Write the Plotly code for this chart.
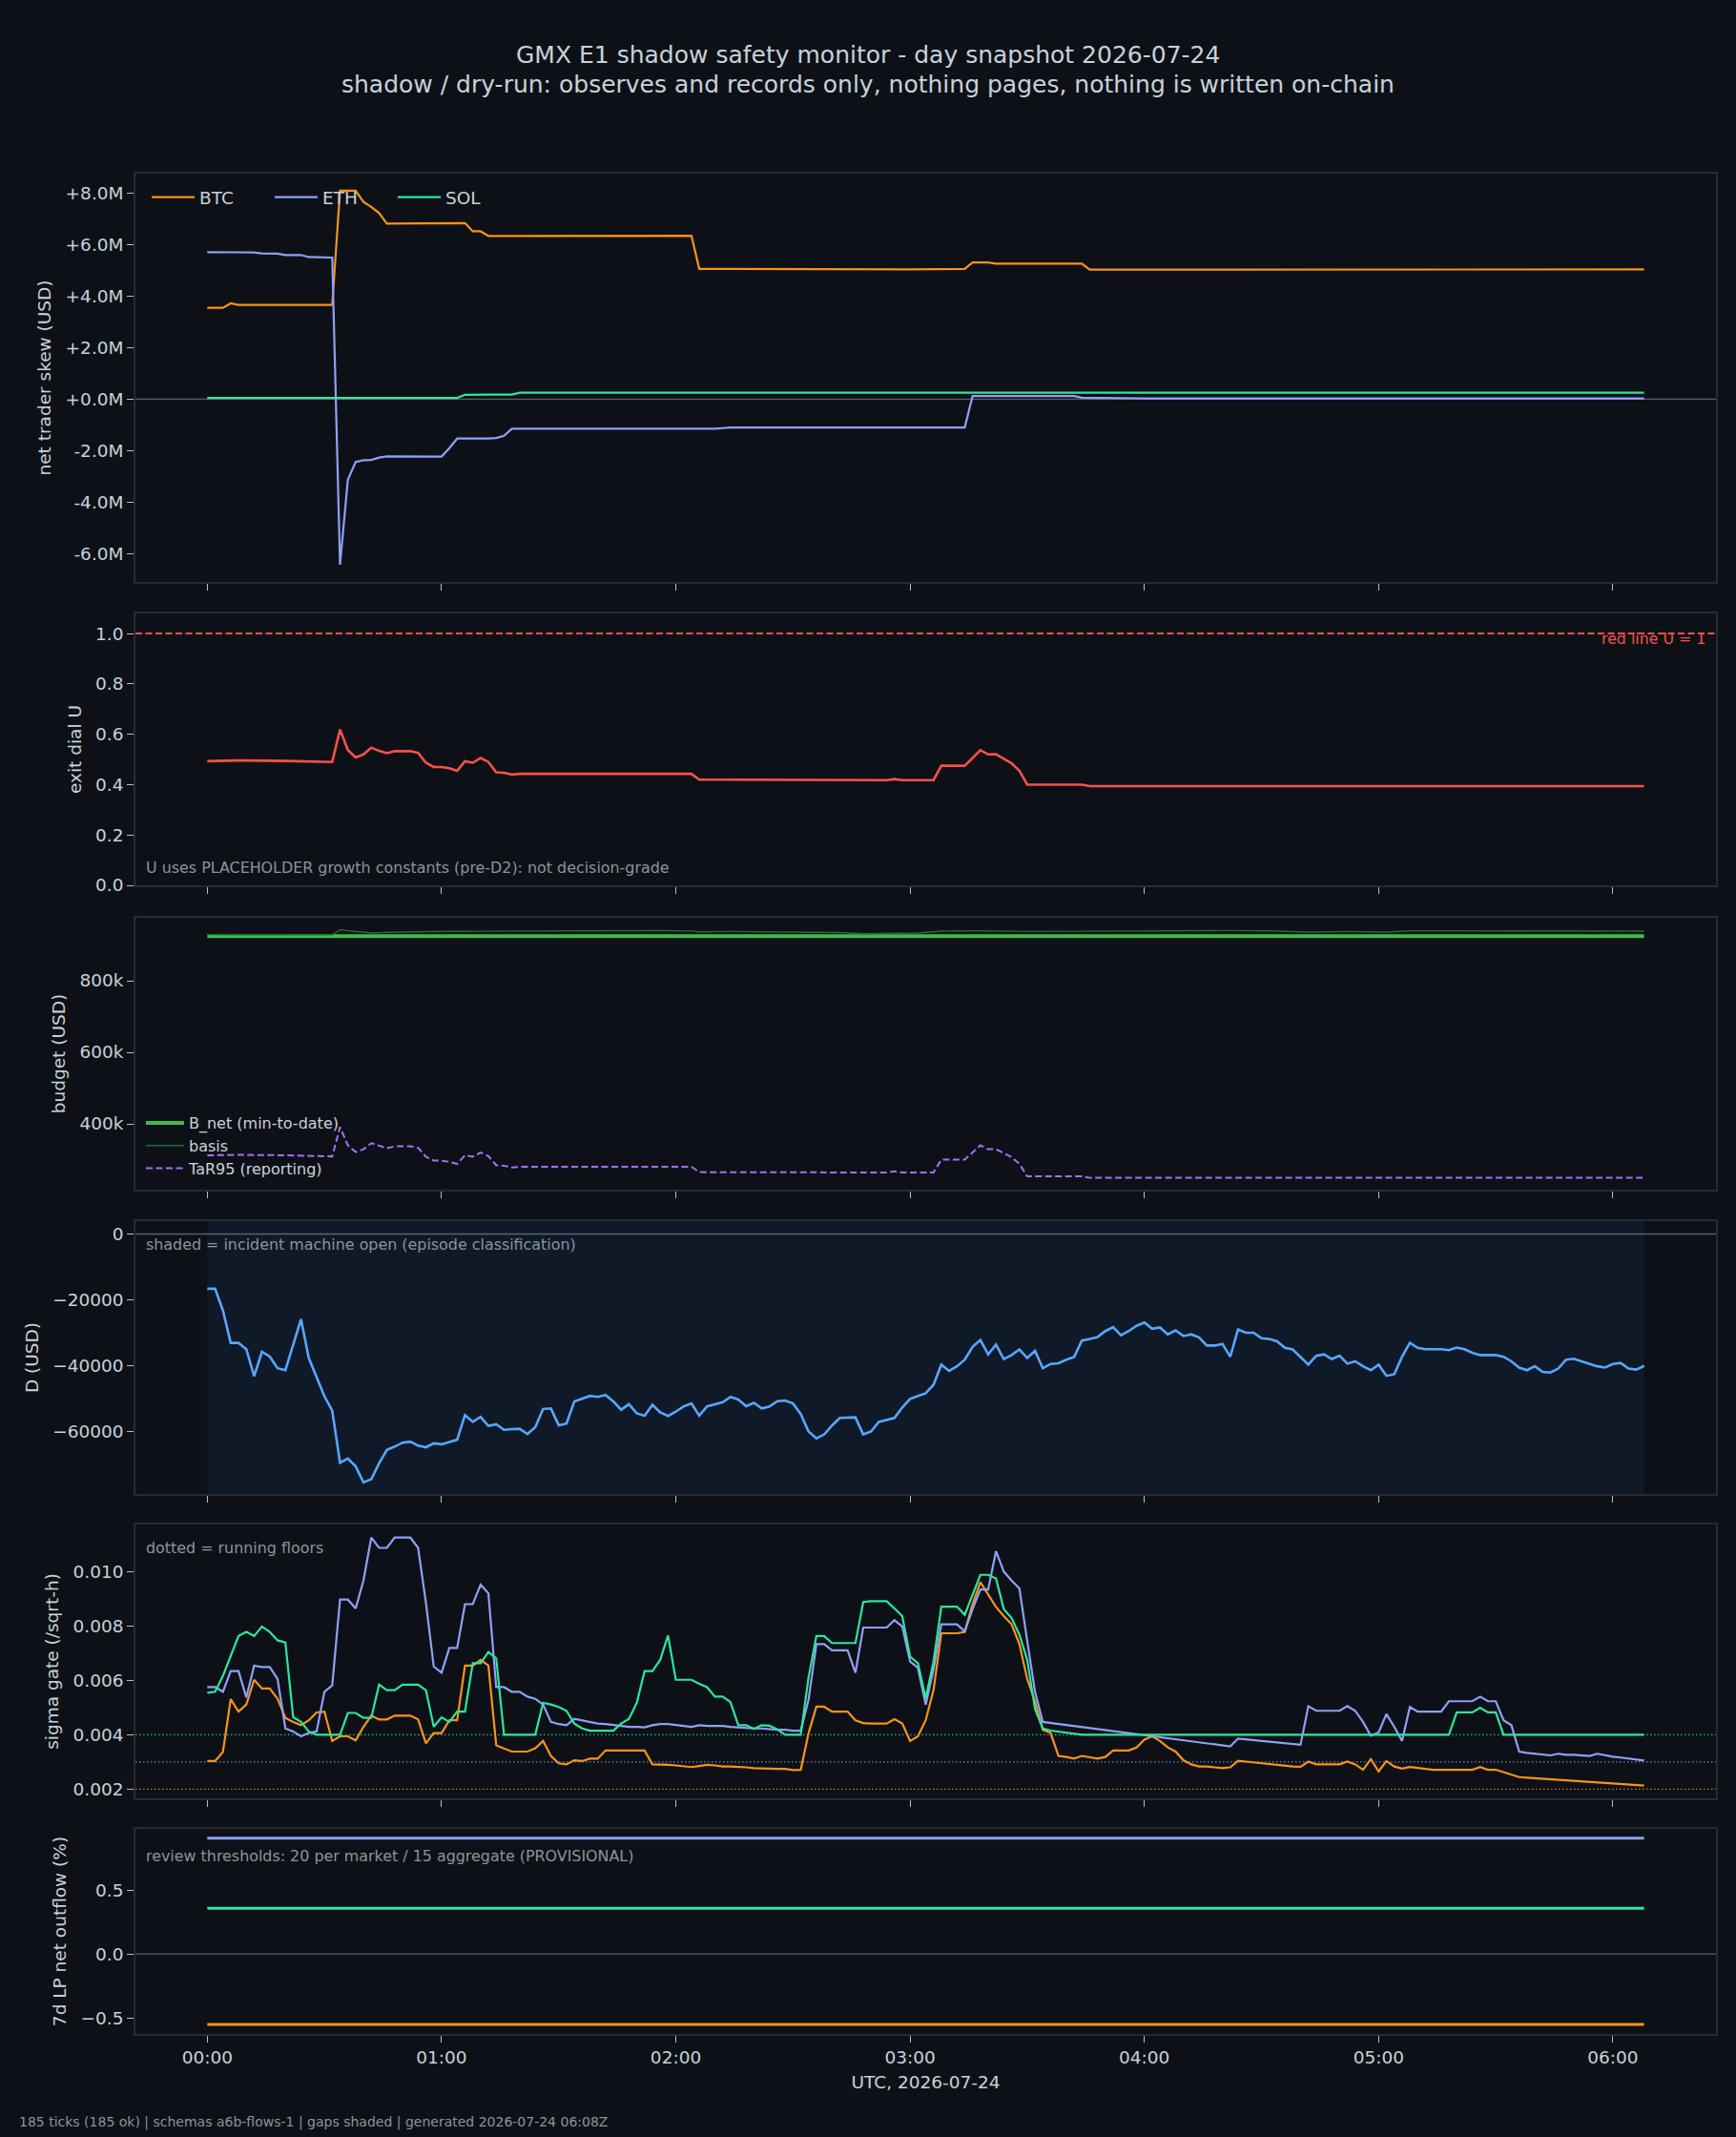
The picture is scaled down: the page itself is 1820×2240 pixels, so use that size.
import plotly.graph_objects as go
from plotly.subplots import make_subplots

# ---------------- data ----------------
t_grid = list(range(0, 369, 2))  # minutes after 00:00 UTC, 185 ticks
tick_vals = [0, 60, 120, 180, 240, 300, 360]
tick_text = ["00:00", "01:00", "02:00", "03:00", "04:00", "05:00", "06:00"]

# panel 1: net trader skew (USD) - vertices of the step-like series
btc_skew_t = [0, 4, 6, 8, 32, 34, 38, 40, 42, 44, 46, 66, 68, 70, 72, 124, 126, 150, 160, 180, 194, 196, 200, 202, 224, 226, 368]
btc_skew = [3.55e6, 3.55e6, 3.72e6, 3.66e6, 3.66e6, 8.1e6, 8.1e6, 7.66e6, 7.47e6, 7.23e6, 6.82e6, 6.84e6, 6.52e6, 6.52e6,
            6.34e6, 6.35e6, 5.06e6, 5.05e6, 5.03e6, 5.04e6, 5.06e6, 5.31e6, 5.31e6, 5.26e6, 5.26e6, 5.03e6, 5.04e6]
eth_skew_t = [0, 12, 14, 18, 20, 24, 26, 32, 34, 36, 38, 40, 42, 44, 46, 58, 60, 62, 64, 72, 74, 76, 78, 130, 134, 194, 196, 222, 224, 240, 368]
eth_skew = [5.71e6, 5.70e6, 5.66e6, 5.65e6, 5.60e6, 5.60e6, 5.52e6, 5.50e6, -6.43e6, -3.13e6, -2.44e6, -2.37e6, -2.36e6, -2.27e6,
            -2.22e6, -2.21e6, -2.23e6, -1.90e6, -1.53e6, -1.53e6, -1.51e6, -1.42e6, -1.15e6, -1.15e6, -1.10e6, -1.10e6,
            0.12e6, 0.12e6, 0.06e6, 0.03e6, 0.03e6]
sol_skew_t = [0, 64, 66, 78, 80, 368]
sol_skew = [0.05e6, 0.05e6, 0.17e6, 0.18e6, 0.25e6, 0.25e6]
skew_ticks = [-6e6, -4e6, -2e6, 0, 2e6, 4e6, 6e6, 8e6]
skew_tick_text = ["-6.0M", "-4.0M", "-2.0M", "+0.0M", "+2.0M", "+4.0M", "+6.0M", "+8.0M"]

# panel 2: exit dial U
u_t = [0, 6, 8, 20, 26, 32, 34, 36, 38, 40, 42, 44, 46, 48, 52, 54, 56, 58, 60, 62, 64, 66, 68, 70, 72, 74, 76, 78, 80,
       124, 126, 174, 176, 178, 186, 188, 194, 198, 200, 202, 204, 206, 208, 210, 224, 226, 368]
u_val = [0.493, 0.495, 0.496, 0.494, 0.492, 0.490, 0.619, 0.537, 0.508, 0.520, 0.547, 0.534, 0.525, 0.533, 0.533, 0.526,
         0.487, 0.470, 0.470, 0.465, 0.455, 0.493, 0.487, 0.506, 0.490, 0.449, 0.447, 0.440, 0.443,
         0.443, 0.420, 0.418, 0.422, 0.418, 0.418, 0.475, 0.475, 0.537, 0.520, 0.521, 0.503, 0.485, 0.455, 0.400,
         0.400, 0.394, 0.394]
u_ticks = [0.0, 0.2, 0.4, 0.6, 0.8, 1.0]
u_tick_text = ["0.0", "0.2", "0.4", "0.6", "0.8", "1.0"]
u_red_line = 1.0

# panel 3: budget (USD)
bnet_t = [0, 368]
bnet_val = [924500, 924500]
basis_t = [0, 10, 20, 32, 34, 36, 38, 40, 42, 46, 50, 56, 64, 70, 76, 84, 92, 100, 108, 116, 124, 126, 134, 140, 146, 150,
           156, 162, 168, 176, 182, 188, 198, 212, 226, 240, 254, 262, 272, 282, 292, 302, 308, 326, 340, 346, 354, 368]
basis_val = [929000, 928600, 928800, 928300, 942300, 939500, 937500, 936000, 933500, 935500, 937000, 937300, 937800,
             938600, 938300, 939000, 939500, 940000, 939500, 939800, 939000, 936500, 937700, 937000, 938000, 937500,
             935500, 934500, 931400, 932000, 933200, 938600, 939500, 937700, 938600, 939500, 938600, 940300, 939500,
             935900, 937700, 935900, 939500, 939500, 938600, 940300, 938600, 938600]
tar_t = u_t
tar_val = [312000, 313000, 313500, 312000, 311000, 309000, 391000, 340000, 321000, 329000, 346000, 338000, 332000, 337000,
           337000, 333000, 308000, 297000, 297000, 294000, 288000, 312000, 308000, 320000, 310000, 284000, 283000, 278000,
           280000, 280000, 265000, 264000, 267000, 264000, 264000, 300000, 300000, 340000, 329000, 329000, 318000,
           307000, 288000, 253000, 253000, 249000, 249000]
budget_ticks = [400000, 600000, 800000]
budget_tick_text = ["400k", "600k", "800k"]

# panel 4: D (USD)
d_val = [-16640, -16640, -23200, -33100, -33100, -35000, -43200, -35800, -37250, -40800,
         -41400, -33900, -25900, -37700, -43500, -49300, -53700, -69500, -68200, -70600,
         -75500, -74500, -69700, -65600, -64600, -63400, -63100, -64300, -64800, -63600,
         -63900, -63300, -62500, -55000, -57100, -55600, -58300, -57800, -59500, -59300,
         -59200, -60800, -58700, -53200, -53000, -58100, -57600, -50900, -50100, -49200,
         -49500, -48900, -50900, -53400, -51700, -54500, -55200, -51900, -54200, -55300,
         -54000, -52400, -51500, -55200, -52400, -51800, -51100, -49500, -50300, -52300,
         -51300, -53000, -52400, -50800, -50600, -51500, -54700, -60000, -62100, -60900,
         -58200, -55900, -55900, -55700, -60900, -60000, -57100, -56600, -55900, -52700,
         -50100, -49200, -48400, -45800, -39700, -41600, -40200, -38200, -34300, -32200,
         -36600, -33600, -38000, -36800, -35100, -37700, -35500, -40800, -39500, -39300,
         -38200, -37400, -32400, -31900, -31300, -29500, -28300, -30800, -29500, -27900,
         -26900, -28800, -28400, -30500, -29300, -31000, -30500, -31400, -33900, -33900,
         -33400, -37300, -29000, -30000, -30000, -31700, -31900, -32600, -34600, -35100,
         -37300, -39700, -37000, -36600, -38000, -37000, -39400, -38700, -40200, -41400,
         -39700, -43100, -42600, -37300, -33100, -34600, -35000, -35000, -35000, -35300,
         -34500, -35000, -36100, -36800, -36800, -36800, -37300, -38700, -40600, -41400,
         -40200, -41900, -42100, -40900, -38200, -37900, -38700, -39500, -40200, -40600,
         -39500, -39200, -40900, -41200, -40100]
incident_open = [0, 368]  # minutes
d_ticks = [-60000, -40000, -20000, 0]
d_tick_text = ["\u221260000", "\u221240000", "\u221220000", "0"]

# panel 5: sigma gate (/sqrt-h); None = no sample (line connects across)
sig_btc = [0.00303, 0.00303, 0.00336, 0.00531, 0.00485, 0.00511, 0.00602, 0.00570, 0.00570, 0.00532,
           0.00462, 0.00447, 0.00435, 0.00453, 0.00482, 0.00485, 0.00377, 0.00394, 0.00394, 0.00379,
           0.00429, 0.00470, 0.00456, 0.00456, 0.00470, 0.00470, 0.00470, 0.00456, 0.00368, 0.00406,
           0.00406, 0.00453, 0.00453, 0.00654, 0.00654, 0.00675, 0.00654, 0.00361, 0.00350, 0.00338,
           0.00338, 0.00338, 0.00350, 0.00377, 0.00322, 0.00295, 0.00291, 0.00306, 0.00303, 0.00312,
           0.00312, 0.00342, 0.00342, 0.00342, 0.00342, 0.00342, 0.00342, 0.00291, 0.00291, 0.00289,
           0.00287, 0.00283, 0.00281, 0.00285, 0.00289, 0.00287, 0.00283, 0.00283, 0.00282, 0.00280,
           0.00277, 0.00277, 0.00275, 0.00274, 0.00274, 0.00270, 0.00271, 0.00406, 0.00503, 0.00503,
           0.00485, 0.00485, 0.00485, 0.00453, 0.00443, 0.00441, 0.00441, 0.00441, 0.00457, 0.00441,
           0.00377, 0.00394, 0.00453, 0.00564, 0.00773, 0.00773, 0.00773, 0.00778, 0.00880, 0.00961,
           0.00915, 0.00870, 0.00836, 0.00806, 0.00733, 0.00605, 0.00523, 0.00418, 0.00406, 0.00322,
           0.00318, 0.00312, 0.00322, 0.00316, 0.00312, 0.00318, 0.00342, 0.00342, 0.00342, 0.00353,
           0.00382, 0.00394, 0.00377, 0.00353, 0.00338, 0.00306, 0.00291, 0.00283, 0.00283, 0.00280,
           0.00277, 0.00280, 0.00304, 0.00301, 0.00298, 0.00296, 0.00292, 0.00289, 0.00285, 0.00283,
           0.00282, 0.00301, 0.00291, 0.00291, 0.00291, 0.00291, 0.00301, 0.00291, 0.00271, 0.00310,
           0.00265, 0.00303, 0.00283, 0.00275, 0.00281, 0.00277, 0.00274, 0.00271, 0.00271, 0.00271,
           0.00271, 0.00271, 0.00271, 0.00281, 0.00271, 0.00271, 0.00262, 0.00254, 0.00244, 0.00242,
           0.00240, 0.00239, 0.00236, 0.00236, 0.00234, 0.00232, 0.00229, 0.00227, 0.00225, 0.00222,
           0.00220, 0.00219, 0.00216, 0.00215, 0.00213]
sig_eth = ([0.00575, 0.00575, 0.00558, 0.00634, 0.00634, 0.00537, 0.00654, 0.00649, 0.00649, 0.00605,
            0.00423, 0.00412, 0.00394, 0.00406, 0.00412, 0.00558, 0.00581, 0.00897, 0.00897, 0.00864,
            0.00967, 0.01125, 0.01087, 0.01087, 0.01125, 0.01125, 0.01125, 0.01087, 0.00885, 0.00651,
            0.00628, 0.00719, 0.00719, 0.00880, 0.00880, 0.00952, 0.00920, 0.00575, 0.00575, 0.00558,
            0.00558, 0.00540, 0.00532, 0.00511, 0.00447, 0.00439, 0.00435, 0.00458, 0.00453, 0.00447,
            0.00441, 0.00439, 0.00435, 0.00433, 0.00429, 0.00429, 0.00427, 0.00435, 0.00439, 0.00439,
            0.00435, 0.00432, 0.00429, 0.00435, 0.00432, 0.00432, 0.00432, 0.00429, 0.00427, 0.00423,
            0.00423, 0.00423, 0.00420, 0.00418, 0.00418, 0.00415, 0.00415, 0.00529, 0.00733, 0.00733,
            0.00710, 0.00710, 0.00710, 0.00628, 0.00794, 0.00794, 0.00794, 0.00794, 0.00821, 0.00798,
            0.00669, 0.00646, 0.00511, 0.00640, 0.00806, 0.00806, 0.00806, 0.00780, 0.00862, 0.00934,
            0.00934, 0.01075, 0.01000, 0.00967, 0.00938, 0.00745, 0.00558, 0.00447]
           + [None] * 23 + [0.00357, 0.00386] + [None] * 7 + [0.00363]
           + [0.00505, 0.00488, 0.00488, 0.00488, 0.00488, 0.00505, 0.00488, 0.00447, 0.00396, 0.00408,
              0.00476, 0.00429, 0.00377, 0.00502, 0.00485, 0.00485, 0.00485, 0.00485, 0.00523, 0.00523,
              0.00523, 0.00523, 0.00540, 0.00523, 0.00523, 0.00453, 0.00435, 0.00338, 0.00333, 0.00330,
              0.00326, 0.00324, 0.00330, 0.00326, 0.00326, 0.00324, 0.00322, 0.00330, 0.00324, 0.00319,
              0.00316, 0.00312, 0.00309, 0.00305])
sig_sol = ([0.00554, 0.00558, 0.00616, 0.00692, 0.00763, 0.00778, 0.00763, 0.00798, 0.00778, 0.00747,
            0.00739, 0.00464, 0.00447, 0.00412, 0.00400, 0.00400, 0.00400, 0.00400, 0.00480, 0.00480,
            0.00462, 0.00462, 0.00584, 0.00564, 0.00564, 0.00584, 0.00584, 0.00584, 0.00564, 0.00429,
            0.00464, 0.00447, 0.00485, 0.00485, 0.00663, 0.00663, 0.00704, 0.00681, 0.00400, 0.00400,
            0.00400, 0.00400, 0.00400, 0.00517, 0.00511, 0.00502, 0.00488, 0.00441, 0.00423, 0.00415,
            0.00415, 0.00415, 0.00415, 0.00441, 0.00458, 0.00517, 0.00634, 0.00634, 0.00675, 0.00765,
            0.00602, 0.00602, 0.00602, 0.00587, 0.00575, 0.00540, 0.00540, 0.00520, 0.00435, 0.00435,
            0.00421, 0.00435, 0.00433, 0.00420, 0.00400, 0.00400, 0.00400, 0.00611, 0.00763, 0.00763,
            0.00737, 0.00737, 0.00737, 0.00737, 0.00888, 0.00891, 0.00891, 0.00891, 0.00864, 0.00836,
            0.00687, 0.00663, 0.00534, 0.00669, 0.00871, 0.00871, 0.00871, 0.00841, 0.00915, 0.00988,
            0.00988, 0.00975, 0.00862, 0.00829, 0.00768, 0.00675, 0.00494, 0.00423, 0.00415]
           + [None] * 3 + [0.00400] + [None] * 46 + [0.00400]
           + [0.00482, 0.00482, 0.00482, 0.00499, 0.00482, 0.00482, 0.00400]
           + [None] * 17 + [0.00400])
floor_btc, floor_eth, floor_sol = 0.002, 0.003, 0.004
sig_ticks = [0.002, 0.004, 0.006, 0.008, 0.010]
sig_tick_text = ["0.002", "0.004", "0.006", "0.008", "0.010"]

# panel 6: 7d LP net outflow (%)
lp_t = [0, 368]
lp_btc = [-0.55, -0.55]
lp_eth = [0.905, 0.905]
lp_sol = [0.358, 0.358]
lp_ticks = [-0.5, 0.0, 0.5]
lp_tick_text = ["\u22120.5", "0.0", "0.5"]

# ---------------- style ----------------
BG = "#0d1117"
PLOT_BG = "#0d1117"
FRAME = "#262b33"
TEXT = "#c9d1d9"
MUTED = "#8b949e"
ZERO = "#5a6069"
C_BTC = "#f7931a"
C_ETH = "#8fa0f5"
C_SOL = "#2ee59d"
C_U = "#f85149"
C_D = "#58a6ff"
C_BNET = "#3fb950"
C_BASIS = "#1f6f33"
C_TAR = "#a371f7"
FONT = "DejaVu Sans"
FS = 18.5

W, H = 1820, 2240
L, R, T, B = 142, 1799, 182, 2132


def px_x(x):
    return (x - L) / (R - L)


def px_y(y):
    return (B - y) / (B - T)


panels_px = [(182, 610), (643, 928), (962, 1247), (1280, 1566), (1598, 1885), (1917, 2132)]

fig = make_subplots(rows=6, cols=1, shared_xaxes=True, vertical_spacing=0.01)

# panel 1
for name, tt, vv, col in [("BTC", btc_skew_t, btc_skew, C_BTC), ("ETH", eth_skew_t, eth_skew, C_ETH),
                          ("SOL", sol_skew_t, sol_skew, C_SOL)]:
    fig.add_trace(go.Scatter(x=tt, y=vv, mode="lines", name=name, line=dict(color=col, width=2.2),
                             legend="legend"), row=1, col=1)
# panel 2
fig.add_trace(go.Scatter(x=u_t, y=u_val, mode="lines", line=dict(color=C_U, width=2.6), showlegend=False), row=2, col=1)
# panel 3
fig.add_trace(go.Scatter(x=bnet_t, y=bnet_val, mode="lines", name="B_net (min-to-date)",
                         line=dict(color=C_BNET, width=4), legend="legend2"), row=3, col=1)
fig.add_trace(go.Scatter(x=basis_t, y=basis_val, mode="lines", name="basis",
                         line=dict(color=C_BASIS, width=1.4), legend="legend2"), row=3, col=1)
fig.add_trace(go.Scatter(x=tar_t, y=tar_val, mode="lines", name="TaR95 (reporting)",
                         line=dict(color=C_TAR, width=2, dash="7px,3.5px"), legend="legend2"), row=3, col=1)
# panel 4
fig.add_trace(go.Scatter(x=t_grid, y=d_val, mode="lines", line=dict(color=C_D, width=2.6), showlegend=False), row=4, col=1)
# panel 5
for vv, col in [(sig_btc, C_BTC), (sig_eth, C_ETH), (sig_sol, C_SOL)]:
    fig.add_trace(go.Scatter(x=t_grid, y=vv, mode="lines", connectgaps=True, line=dict(color=col, width=2.2),
                             showlegend=False), row=5, col=1)
# panel 6
for vv, col in [(lp_btc, C_BTC), (lp_eth, C_ETH), (lp_sol, C_SOL)]:
    fig.add_trace(go.Scatter(x=lp_t, y=vv, mode="lines", line=dict(color=col, width=3), showlegend=False), row=6, col=1)

# shapes
shapes = []
for yref, yv in [("y", 0), ("y4", 0), ("y6", 0)]:
    shapes.append(dict(type="line", xref="x domain", yref=yref, x0=0, x1=1, y0=yv, y1=yv,
                       line=dict(color=ZERO, width=1.4), layer="below"))
shapes.append(dict(type="line", xref="x domain", yref="y2", x0=0, x1=1, y0=u_red_line, y1=u_red_line,
                   line=dict(color=C_U, width=2, dash="7px,3.5px"), layer="below"))
shapes.append(dict(type="rect", xref="x4", yref="y4 domain", x0=incident_open[0], x1=incident_open[1], y0=0, y1=1,
                   fillcolor="rgba(56,139,253,0.07)", line=dict(width=0), layer="below"))
for yv, col in [(floor_sol, C_SOL), (floor_eth, C_ETH), (floor_btc, C_BTC)]:
    shapes.append(dict(type="line", xref="x domain", yref="y5", x0=0, x1=1, y0=yv, y1=yv,
                       line=dict(color=col, width=1.3, dash="1.5px,2.5px"), opacity=0.8, layer="below"))

# annotations
anns = [
    dict(text="GMX E1 shadow safety monitor - day snapshot 2026-07-24", x=px_x(910), y=px_y(58),
         font=dict(size=25, color=TEXT)),
    dict(text="shadow / dry-run: observes and records only, nothing pages, nothing is written on-chain",
         x=px_x(910), y=px_y(89), font=dict(size=25, color=TEXT)),
    dict(text="red line U = 1", x=px_x(1790), y=px_y(670), xanchor="right", font=dict(size=15.8, color=C_U)),
    dict(text="U uses PLACEHOLDER growth constants (pre-D2): not decision-grade", x=px_x(151), y=px_y(909),
         xanchor="left", font=dict(size=15.9, color=MUTED)),
    dict(text="shaded = incident machine open (episode classification)", x=px_x(151), y=px_y(1304),
         xanchor="left", font=dict(size=15.9, color=MUTED)),
    dict(text="dotted = running floors", x=px_x(151), y=px_y(1622), xanchor="left",
         font=dict(size=15.9, color=MUTED)),
    dict(text="review thresholds: 20 per market / 15 aggregate (PROVISIONAL)", x=px_x(151), y=px_y(1945),
         xanchor="left", font=dict(size=15.9, color=MUTED)),
    dict(text="185 ticks (185 ok) | schemas a6b-flows-1 | gaps shaded | generated 2026-07-24 06:08Z",
         x=px_x(18), y=px_y(2224), xanchor="left", font=dict(size=14, color=MUTED)),
]
for a in anns:
    a.update(xref="paper", yref="paper", showarrow=False, yanchor="middle", font=dict(family=FONT, **a["font"]))
    a.setdefault("xanchor", "center")

fig.update_layout(
    width=W, height=H, margin=dict(l=L, r=W - R, t=T, b=H - B),
    paper_bgcolor=BG, plot_bgcolor=PLOT_BG,
    font=dict(family=FONT, size=FS, color=TEXT),
    shapes=shapes, annotations=anns,
    legend=dict(orientation="h", x=px_x(154), y=px_y(207), xanchor="left", yanchor="middle",
                bgcolor="rgba(0,0,0,0)", font=dict(size=FS, color=TEXT), itemwidth=45,
                entrywidth=69, entrywidthmode="pixels"),
    legend2=dict(orientation="v", x=px_x(148), y=px_y(1160), xanchor="left", yanchor="top",
                 bgcolor="rgba(0,0,0,0)", font=dict(size=16, color=TEXT), itemwidth=40),
)

axis_common = dict(showline=True, mirror=True, linecolor=FRAME, linewidth=1.6, showgrid=False, zeroline=False,
                   ticks="outside", ticklen=7, tickwidth=1.3, tickcolor="#b8bec6",
                   tickfont=dict(family=FONT, size=FS, color=TEXT))
fig.update_xaxes(range=[-18.4, 386.4], tickvals=tick_vals, ticktext=tick_text, **axis_common)
fig.update_xaxes(title=dict(text="UTC, 2026-07-24", standoff=10, font=dict(family=FONT, size=FS, color=TEXT)),
                 row=6, col=1)

y_specs = [
    ("net trader skew (USD)", [-7.1e6, 8.76e6], skew_ticks, skew_tick_text),
    ("exit dial U", [0.0, 1.08], u_ticks, u_tick_text),
    ("budget (USD)", [216000, 976000], budget_ticks, budget_tick_text),
    ("D (USD)", [-79000, 3900], d_ticks, d_tick_text),
    ("sigma gate (/sqrt-h)", [0.00166, 0.01173], sig_ticks, sig_tick_text),
    ("7d LP net outflow (%)", [-0.625, 0.978], lp_ticks, lp_tick_text),
]
for i, ((title, rng, tv, tt), (top, bot)) in enumerate(zip(y_specs, panels_px), start=1):
    fig.update_yaxes(title=dict(text=title, standoff=10, font=dict(family=FONT, size=FS, color=TEXT)),
                     range=rng, tickvals=tv, ticktext=tt, domain=[px_y(bot), px_y(top)],
                     row=i, col=1, **axis_common)

fig.write_html("out.html")
